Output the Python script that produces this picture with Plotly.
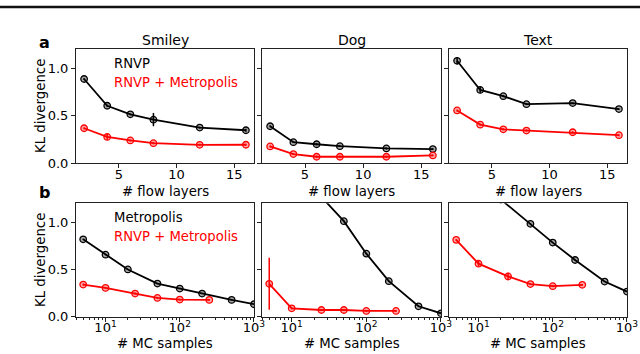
import plotly.graph_objects as go
import math

W, H = 640, 354

# ---------------- data ----------------
flow_layers = [2, 4, 6, 8, 12, 16]
panels = ["Smiley", "Dog", "Text"]

rnvp_vals = {
    "Smiley": [0.885, 0.604, 0.514, 0.458, 0.375, 0.347],
    "Dog":    [0.389, 0.222, 0.200, 0.180, 0.156, 0.149],
    "Text":   [1.076, 0.770, 0.705, 0.621, 0.632, 0.569],
}
rnvp_err = {
    "Smiley": [0.01, 0.01, 0.01, 0.07, 0.01, 0.015],
    "Dog":    [0.01, 0.01, 0.01, 0.01, 0.01, 0.01],
    "Text":   [0.035, 0.03, 0.01, 0.01, 0.01, 0.01],
}
rnvp_metro_flow = {
    "Smiley": [0.368, 0.277, 0.240, 0.211, 0.194, 0.195],
    "Dog":    [0.177, 0.097, 0.069, 0.069, 0.069, 0.083],
    "Text":   [0.555, 0.406, 0.357, 0.344, 0.326, 0.295],
}
rnvp_metro_flow_err = {
    "Smiley": [0.01, 0.03, 0.01, 0.01, 0.01, 0.01],
    "Dog":    [0.01, 0.01, 0.01, 0.01, 0.01, 0.01],
    "Text":   [0.01, 0.01, 0.01, 0.01, 0.01, 0.01],
}

metro_samples = [5, 10, 20, 50, 100, 200, 500, 1000]
metro_vals = {
    "Smiley": [0.819, 0.656, 0.500, 0.351, 0.298, 0.245, 0.178, 0.132],
    "Dog":    [2.000, 1.700, 1.350, 1.011, 0.667, 0.376, 0.110, 0.036],
    "Text":   [1.800, 1.500, 1.240, 0.983, 0.784, 0.600, 0.372, 0.266],
}
combo_samples = [5, 10, 25, 50, 100, 250]
combo_vals = {
    "Smiley": [0.340, 0.305, 0.245, 0.199, 0.181, 0.178],
    "Dog":    [0.348, 0.089, 0.071, 0.071, 0.061, 0.061],
    "Text":   [0.813, 0.561, 0.426, 0.345, 0.323, 0.337],
}
combo_err = {
    "Smiley": [0.01, 0.01, 0.01, 0.01, 0.01, 0.01],
    "Dog":    [0.275, 0.01, 0.01, 0.01, 0.01, 0.01],
    "Text":   [0.01, 0.03, 0.04, 0.01, 0.01, 0.01],
}

flow_ticks = [5, 10, 15]
y_ticks = [0.0, 0.5, 1.0]
y_ticktext = ["0.0", "0.5", "1.0"]
mc_ticks = [10, 100, 1000]
mc_ticktext = ["10<sup>1</sup>", "10<sup>2</sup>", "10<sup>3</sup>"]

# ---------------- layout geometry (pixels) ----------------
col_px = [(76, 254), (262, 441), (449, 627)]
row_px = [(49, 163.3), (203.3, 316.7)]

BLACK = "#000000"
RED = "#ff0000"
FONT = "DejaVu Sans"

fig = go.Figure()

def ax_name(kind, idx):
    return kind if idx == 1 else f"{kind}{idx}"

def add_series(x, y, err, color, xa, ya):
    fig.add_trace(go.Scatter(
        x=x, y=y, mode="lines+markers",
        line=dict(color=color, width=1.8),
        marker=dict(symbol="circle", size=6.5, color="rgba(0,0,0,0)",
                    line=dict(color=color, width=1.3)),
        error_y=dict(type="data", array=err, visible=True, color=color,
                     thickness=1.5, width=0),
        xaxis=xa, yaxis=ya, showlegend=False, cliponaxis=True,
    ))
    fig.add_trace(go.Scatter(
        x=x, y=y, mode="markers",
        marker=dict(symbol="circle", size=6.5,
                    color="rgba(0,0,0,0.35)" if color == BLACK else "rgba(255,0,0,0.35)",
                    line=dict(width=0)),
        xaxis=xa, yaxis=ya, showlegend=False, hoverinfo="skip",
    ))

axis_common = dict(showline=True, linecolor="#222222", linewidth=1, mirror=True,
                   ticks="outside", ticklen=4, tickwidth=1, tickcolor="#222222",
                   showgrid=False, zeroline=False,
                   tickfont=dict(family=FONT, size=13, color="black"))

layout_axes = {}
idx = 0
for r in range(2):
    for c, name in enumerate(panels):
        idx += 1
        xa, ya = ax_name("x", idx), ax_name("y", idx)
        x0, x1 = col_px[c]
        yt, yb = row_px[r]
        xdom = [x0 / W, x1 / W]
        ydom = [1 - yb / H, 1 - yt / H]
        xkey = "xaxis" if idx == 1 else f"xaxis{idx}"
        ykey = "yaxis" if idx == 1 else f"yaxis{idx}"
        if r == 0:
            add_series(flow_layers, rnvp_vals[name], rnvp_err[name], BLACK, xa, ya)
            add_series(flow_layers, rnvp_metro_flow[name], rnvp_metro_flow_err[name], RED, xa, ya)
            layout_axes[xkey] = dict(axis_common, domain=xdom, anchor=ya,
                                     range=[1.3, 16.7], tickvals=flow_ticks,
                                     ticklabelstandoff=-5)
        else:
            add_series(metro_samples, metro_vals[name], [0.005] * len(metro_samples), BLACK, xa, ya)
            add_series(combo_samples, combo_vals[name], combo_err[name], RED, xa, ya)
            layout_axes[xkey] = dict(axis_common, domain=xdom, anchor=ya, type="log",
                                     range=[math.log10(4), 3.0005],
                                     tickvals=mc_ticks, ticktext=mc_ticktext,
                                     ticklabelstandoff=-5,
                                     minor=dict(ticks="outside", ticklen=2, tickwidth=1,
                                                tickcolor="#222222", showgrid=False,
                                                tickvals=[v * m for m in (1, 10, 100) for v in range(2, 10) if 4 <= v * m < 1000]))
        layout_axes[ykey] = dict(axis_common, domain=ydom, anchor=xa, range=[0, 1.2],
                                 tickvals=y_ticks, ticktext=y_ticktext,
                                 showticklabels=(c == 0))

fig.update_layout(**layout_axes)

ann = []
# panel titles
for c, name in enumerate(panels):
    x0, x1 = col_px[c]
    ann.append(dict(text=name, x=(x0 + x1) / 2 / W, y=1 - 40 / H, xref="paper", yref="paper",
                    showarrow=False, font=dict(family=FONT, size=14, color="black"),
                    xanchor="center", yanchor="middle"))
# in-panel legends
for r in range(2):
    lab1 = "RNVP" if r == 0 else "Metropolis"
    xr = "x domain" if r == 0 else "x4 domain"
    yr = "y domain" if r == 0 else "y4 domain"
    ann.append(dict(text=lab1, x=0.2, y=0.877, xref=xr, yref=yr, showarrow=False,
                    font=dict(family=FONT, size=13.2, color=BLACK), xanchor="left", yanchor="middle"))
    ann.append(dict(text="RNVP + Metropolis", x=0.2, y=0.705, xref=xr, yref=yr, showarrow=False,
                    font=dict(family=FONT, size=13.2, color=RED), xanchor="left", yanchor="middle"))
# axis titles
for c in range(3):
    x0, x1 = col_px[c]
    ann.append(dict(text="# flow layers", x=(x0 + x1) / 2 / W, y=1 - 191 / H, xref="paper", yref="paper",
                    showarrow=False, font=dict(family=FONT, size=13.3, color="black"),
                    xanchor="center", yanchor="middle"))
    ann.append(dict(text="# MC samples", x=(x0 + x1) / 2 / W, y=1 - 343.5 / H, xref="paper", yref="paper",
                    showarrow=False, font=dict(family=FONT, size=13.3, color="black"),
                    xanchor="center", yanchor="middle"))
for yc in [106, 260]:
    ann.append(dict(text="KL divergence", x=40 / W, y=1 - yc / H, xref="paper", yref="paper",
                    showarrow=False, textangle=-90, font=dict(family=FONT, size=13.3, color="black"),
                    xanchor="center", yanchor="middle"))
# panel letters
ann.append(dict(text="<b>a</b>", x=44 / W, y=1 - 42 / H, xref="paper", yref="paper", showarrow=False,
                font=dict(family=FONT, size=16, color="black"), xanchor="center", yanchor="middle"))
ann.append(dict(text="<b>b</b>", x=44 / W, y=1 - 192 / H, xref="paper", yref="paper", showarrow=False,
                font=dict(family=FONT, size=16, color="black"), xanchor="center", yanchor="middle"))

fig.update_layout(
    annotations=ann,
    width=W, height=H, autosize=False,
    margin=dict(l=0, r=0, t=0, b=0, autoexpand=False),
    paper_bgcolor="white", plot_bgcolor="white",
    showlegend=False,
    shapes=[dict(type="line", xref="paper", yref="paper", x0=0, x1=1,
                 y0=1 - 7 / H, y1=1 - 7 / H, line=dict(color="#111111", width=2.5))],
)

fig.write_html("out.html",
               config={"responsive": False, "displayModeBar": False},
               default_width="640px", default_height="354px",
               post_script="document.body.style.margin='0';document.body.style.overflow='hidden';")
